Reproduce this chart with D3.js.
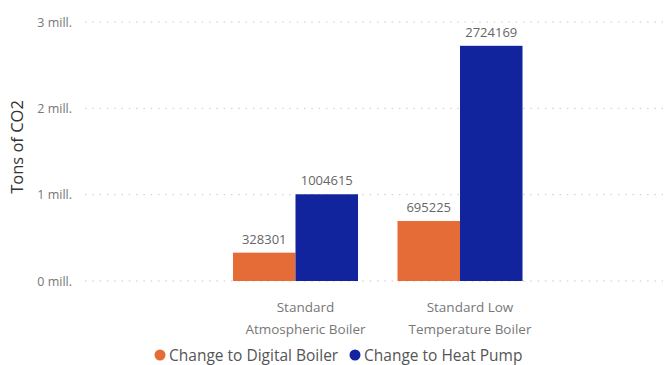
<!DOCTYPE html>
<html>
<head>
<meta charset="utf-8">
<script src="https://cdn.jsdelivr.net/npm/d3@7"></script>
<style>
  body { margin: 0; background: #fff; }
  svg { font-family: 'Open Sans', 'Noto Sans', sans-serif; }
</style>
</head>
<body>
<svg id="chart"></svg>
<script>
const categories = [['Standard', 'Atmospheric Boiler'], ['Standard Low', 'Temperature Boiler']]
const seriesNames = ['Change to Digital Boiler', 'Change to Heat Pump']
const digitalBoiler = [328301, 695225]
const heatPump = [1004615, 2724169]
const yTicks = [0, 1000000, 2000000, 3000000]
const tickLabels = ['0 mill.', '1 mill.', '2 mill.', '3 mill.']
const colors = ['#E66C37', '#12239E']

const width = 668, height = 365
const svg = d3.select('#chart').attr('width', width).attr('height', height)

const catKeys = categories.map(c => c.join(' '))
const data = catKeys.map((k, i) => ({ name: k, values: [digitalBoiler[i], heatPump[i]] }))

const x = d3.scaleBand()
    .domain(catKeys)
    .range([213.25, 542.25])
    .paddingInner(0.24)
    .paddingOuter(0.12)

const xs = d3.scaleBand()
    .domain(seriesNames)
    .range([0, x.bandwidth()])

const y = d3.scaleLinear()
    .domain([0, 3000000])
    .range([281, 22])

// gridlines
svg.append('g')
  .selectAll('line')
  .data(yTicks)
  .join('line')
    .attr('x1', 85)
    .attr('x2', 663)
    .attr('y1', d => y(d))
    .attr('y2', d => y(d))
    .attr('stroke', '#c8c8c8')
    .attr('stroke-width', 1)
    .attr('stroke-dasharray', '1.5,5.8')

// y tick labels
svg.append('g')
  .selectAll('text')
  .data(yTicks)
  .join('text')
    .attr('x', 72)
    .attr('y', d => y(d) + 4.5)
    .attr('text-anchor', 'end')
    .attr('fill', '#777')
    .style('font-size', '12.5px')
    .text((d, i) => tickLabels[i])

// y title
svg.append('text')
    .attr('transform', 'translate(23,147) rotate(-90)')
    .attr('text-anchor', 'middle')
    .attr('fill', '#333')
    .style('font-size', '16.5px')
    .text('Tons of CO2')

// bars
const groups = svg.append('g')
  .selectAll('g')
  .data(data)
  .join('g')
    .attr('transform', d => `translate(${x(d.name)},0)`)

groups.selectAll('rect')
  .data(d => d.values.map((v, i) => ({ key: seriesNames[i], value: v, i })))
  .join('rect')
    .attr('x', d => xs(d.key))
    .attr('y', d => y(d.value))
    .attr('width', xs.bandwidth())
    .attr('height', d => y(0) - y(d.value))
    .attr('fill', d => colors[d.i])

groups.selectAll('text')
  .data(d => d.values.map((v, i) => ({ key: seriesNames[i], value: v })))
  .join('text')
    .attr('x', d => xs(d.key) + xs.bandwidth() / 2)
    .attr('y', d => y(d.value) - 9)
    .attr('text-anchor', 'middle')
    .attr('fill', '#666')
    .style('font-size', '13px')
    .text(d => d.value)

// category labels
const catLabels = svg.append('g')
  .selectAll('text')
  .data(categories)
  .join('text')
    .attr('text-anchor', 'middle')
    .attr('fill', '#777')
    .style('font-size', '13.5px')

catLabels.selectAll('tspan')
  .data((d, i) => d.map(line => ({ line, key: catKeys[i] })))
  .join('tspan')
    .attr('x', d => x(d.key) + x.bandwidth() / 2 + 10)
    .attr('y', (d, j) => 312 + j * 22)
    .text(d => d.line)

// legend
const legendX = [160, 355]
const legend = svg.append('g')
  .selectAll('g')
  .data(seriesNames)
  .join('g')
    .attr('transform', (d, i) => `translate(${legendX[i]},355)`)

legend.append('circle')
    .attr('r', 5.5)
    .attr('fill', (d, i) => colors[i])

legend.append('text')
    .attr('x', 9)
    .attr('y', 5.5)
    .attr('fill', '#555')
    .style('font-size', '15.5px')
    .text(d => d)
</script>
</body>
</html>
